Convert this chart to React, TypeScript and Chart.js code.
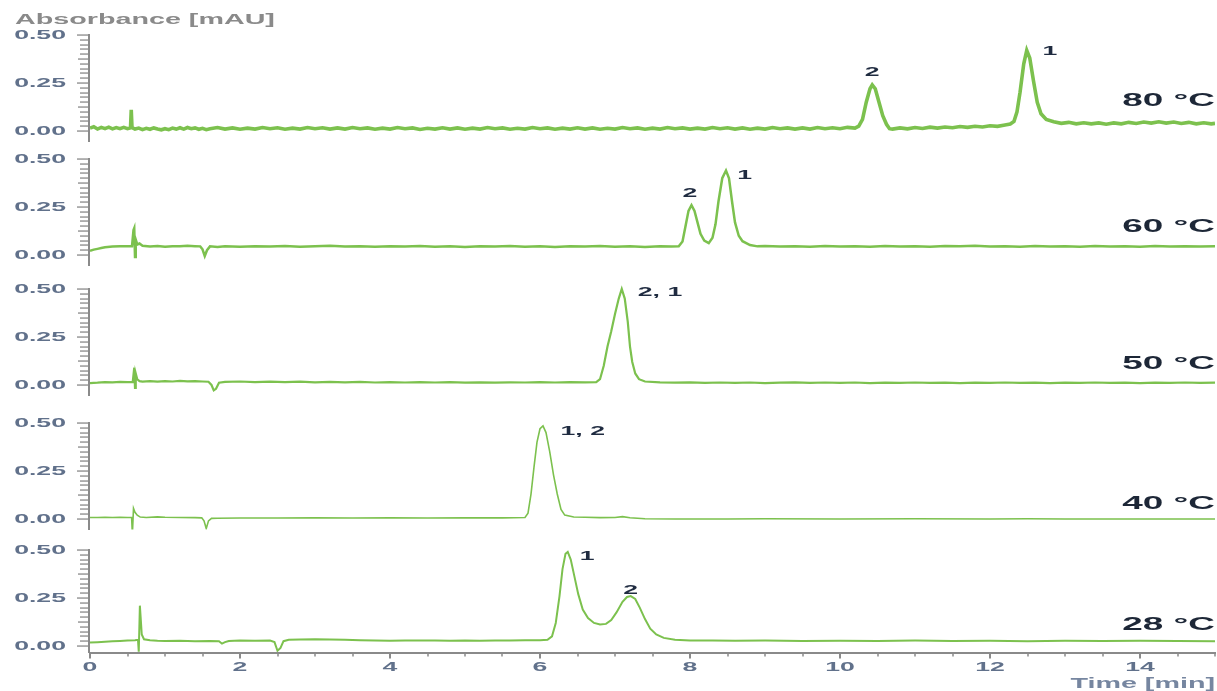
import React, { useEffect, useRef } from "react";
import { Chart, registerables } from "chart.js";

Chart.register(...registerables);

// ---------- data (time [min], absorbance [mAU]) ----------
const temperatures = ["80 °C", "60 °C", "50 °C", "40 °C", "28 °C"];

const trace80: [number, number][] = [
  [0, 0.015], [0.05, 0.022], [0.1, 0.01], [0.15, 0.019], [0.2, 0.012], [0.25, 0.02], [0.3, 0.011], [0.35, 0.018],
  [0.4, 0.012], [0.45, 0.019], [0.5, 0.012], [0.54, 0.016], [0.55, 0.11], [0.56, 0.018], [0.6, 0.01], [0.65, 0.015],
  [0.7, 0.007], [0.75, 0.014], [0.8, 0.009], [0.85, 0.016], [0.9, 0.01], [0.95, 0.006], [1.0, 0.012], [1.05, 0.007],
  [1.1, 0.015], [1.15, 0.01], [1.2, 0.017], [1.25, 0.01], [1.3, 0.018], [1.35, 0.012], [1.4, 0.016], [1.45, 0.009],
  [1.5, 0.014], [1.55, 0.007], [1.6, 0.012], [1.7, 0.018], [1.8, 0.01], [1.9, 0.016], [2.0, 0.009], [2.1, 0.015],
  [2.2, 0.01], [2.3, 0.018], [2.4, 0.012], [2.5, 0.017], [2.6, 0.009], [2.7, 0.015], [2.8, 0.01], [2.9, 0.018],
  [3.0, 0.012], [3.1, 0.017], [3.2, 0.01], [3.3, 0.016], [3.4, 0.01], [3.5, 0.018], [3.6, 0.012], [3.7, 0.016],
  [3.8, 0.009], [3.9, 0.015], [4.0, 0.01], [4.1, 0.018], [4.2, 0.012], [4.3, 0.016], [4.4, 0.008], [4.5, 0.014],
  [4.6, 0.01], [4.7, 0.017], [4.8, 0.01], [4.9, 0.016], [5.0, 0.009], [5.1, 0.015], [5.2, 0.01], [5.3, 0.018],
  [5.4, 0.012], [5.5, 0.016], [5.6, 0.009], [5.7, 0.014], [5.8, 0.01], [5.9, 0.018], [6.0, 0.012], [6.1, 0.016],
  [6.2, 0.009], [6.3, 0.015], [6.4, 0.01], [6.5, 0.017], [6.6, 0.01], [6.7, 0.016], [6.8, 0.009], [6.9, 0.014],
  [7.0, 0.01], [7.1, 0.018], [7.2, 0.012], [7.3, 0.016], [7.4, 0.009], [7.5, 0.015], [7.6, 0.01], [7.7, 0.018],
  [7.8, 0.012], [7.9, 0.016], [8.0, 0.01], [8.1, 0.015], [8.2, 0.01], [8.3, 0.018], [8.4, 0.012], [8.5, 0.017],
  [8.6, 0.01], [8.7, 0.016], [8.8, 0.009], [8.9, 0.015], [9.0, 0.01], [9.1, 0.018], [9.2, 0.012], [9.3, 0.016],
  [9.4, 0.01], [9.5, 0.016], [9.6, 0.01], [9.7, 0.018], [9.8, 0.012], [9.9, 0.017], [10.0, 0.012], [10.1, 0.019],
  [10.2, 0.015], [10.25, 0.025], [10.3, 0.06], [10.35, 0.15], [10.4, 0.22], [10.43, 0.24], [10.47, 0.22],
  [10.52, 0.15], [10.57, 0.08], [10.62, 0.035], [10.66, 0.012], [10.7, 0.01], [10.8, 0.016], [10.9, 0.011],
  [11.0, 0.018], [11.1, 0.013], [11.2, 0.02], [11.3, 0.015], [11.4, 0.021], [11.5, 0.017], [11.6, 0.023],
  [11.7, 0.019], [11.8, 0.025], [11.9, 0.021], [12.0, 0.027], [12.1, 0.024], [12.2, 0.031], [12.27, 0.036],
  [12.32, 0.05], [12.36, 0.1], [12.4, 0.2], [12.45, 0.35], [12.49, 0.42], [12.53, 0.38], [12.58, 0.26],
  [12.63, 0.15], [12.68, 0.09], [12.75, 0.06], [12.85, 0.048], [12.95, 0.04], [13.05, 0.045], [13.15, 0.037],
  [13.25, 0.043], [13.35, 0.037], [13.45, 0.042], [13.55, 0.035], [13.65, 0.042], [13.75, 0.037], [13.85, 0.045],
  [13.95, 0.039], [14.05, 0.047], [14.15, 0.041], [14.25, 0.048], [14.35, 0.041], [14.45, 0.047], [14.55, 0.039],
  [14.65, 0.045], [14.75, 0.037], [14.85, 0.043], [14.95, 0.037], [15, 0.04],
];

const trace60: [number, number][] = [
  [0, 0.022], [0.05, 0.028], [0.1, 0.032], [0.15, 0.036], [0.2, 0.04], [0.3, 0.044], [0.4, 0.046], [0.5, 0.045],
  [0.56, 0.046], [0.58, 0.13], [0.59, 0.14], [0.6, -0.01], [0.61, 0.08], [0.63, 0.055], [0.66, 0.06], [0.7, 0.048],
  [0.8, 0.044], [0.9, 0.047], [1.0, 0.043], [1.1, 0.046], [1.2, 0.045], [1.3, 0.048], [1.4, 0.046], [1.47, 0.045],
  [1.5, 0.03], [1.53, -0.005], [1.56, 0.025], [1.6, 0.045], [1.7, 0.042], [1.8, 0.046], [2.0, 0.043], [2.2, 0.046],
  [2.4, 0.044], [2.6, 0.047], [2.8, 0.043], [3.0, 0.045], [3.2, 0.048], [3.4, 0.044], [3.6, 0.046], [3.8, 0.043],
  [4.0, 0.046], [4.2, 0.044], [4.4, 0.047], [4.6, 0.043], [4.8, 0.045], [5.0, 0.042], [5.2, 0.046], [5.4, 0.044],
  [5.6, 0.047], [5.8, 0.043], [6.0, 0.045], [6.2, 0.042], [6.4, 0.046], [6.6, 0.044], [6.8, 0.047], [7.0, 0.043],
  [7.2, 0.045], [7.4, 0.042], [7.6, 0.046], [7.75, 0.044], [7.85, 0.046], [7.9, 0.07], [7.94, 0.15], [7.98, 0.23],
  [8.02, 0.26], [8.06, 0.23], [8.1, 0.17], [8.14, 0.11], [8.19, 0.075], [8.25, 0.062], [8.3, 0.09], [8.34, 0.16],
  [8.38, 0.28], [8.43, 0.4], [8.48, 0.44], [8.52, 0.4], [8.56, 0.28], [8.6, 0.17], [8.65, 0.1], [8.7, 0.072],
  [8.8, 0.052], [8.9, 0.045], [9.0, 0.047], [9.2, 0.044], [9.4, 0.046], [9.6, 0.043], [9.8, 0.047], [10.0, 0.044],
  [10.2, 0.046], [10.4, 0.043], [10.6, 0.047], [10.8, 0.044], [11.0, 0.046], [11.2, 0.043], [11.4, 0.047],
  [11.6, 0.045], [11.8, 0.048], [12.0, 0.044], [12.2, 0.046], [12.4, 0.043], [12.6, 0.047], [12.8, 0.044],
  [13.0, 0.046], [13.2, 0.043], [13.4, 0.047], [13.6, 0.044], [13.8, 0.046], [14.0, 0.043], [14.2, 0.047],
  [14.4, 0.044], [14.6, 0.046], [14.8, 0.044], [15, 0.045],
];

const trace50: [number, number][] = [
  [0, 0.01], [0.1, 0.012], [0.2, 0.015], [0.3, 0.014], [0.4, 0.016], [0.5, 0.015], [0.57, 0.016], [0.59, 0.09],
  [0.6, -0.015], [0.61, 0.06], [0.63, 0.03], [0.66, 0.02], [0.7, 0.018], [0.8, 0.02], [0.9, 0.017], [1.0, 0.02],
  [1.1, 0.018], [1.2, 0.021], [1.3, 0.019], [1.4, 0.02], [1.5, 0.018], [1.58, 0.017], [1.62, 0.0], [1.65, -0.028],
  [1.68, -0.02], [1.72, 0.012], [1.8, 0.016], [2.0, 0.018], [2.2, 0.015], [2.4, 0.017], [2.6, 0.015], [2.8, 0.017],
  [3.0, 0.014], [3.2, 0.016], [3.4, 0.014], [3.6, 0.016], [3.8, 0.013], [4.0, 0.015], [4.2, 0.013], [4.4, 0.015],
  [4.6, 0.013], [4.8, 0.015], [5.0, 0.012], [5.2, 0.014], [5.4, 0.012], [5.6, 0.014], [5.8, 0.013], [6.0, 0.015],
  [6.2, 0.013], [6.4, 0.015], [6.6, 0.014], [6.75, 0.015], [6.8, 0.03], [6.85, 0.1], [6.9, 0.2], [6.95, 0.28],
  [7.0, 0.37], [7.05, 0.45], [7.09, 0.5], [7.13, 0.45], [7.17, 0.33], [7.2, 0.2], [7.23, 0.12], [7.27, 0.06],
  [7.32, 0.03], [7.4, 0.018], [7.6, 0.014], [7.8, 0.012], [8.0, 0.014], [8.2, 0.011], [8.4, 0.013], [8.6, 0.011],
  [8.8, 0.013], [9.0, 0.01], [9.2, 0.012], [9.4, 0.014], [9.6, 0.011], [9.8, 0.013], [10.0, 0.011], [10.2, 0.013],
  [10.4, 0.01], [10.6, 0.012], [10.8, 0.011], [11.0, 0.013], [11.2, 0.011], [11.4, 0.012], [11.6, 0.01],
  [11.8, 0.012], [12.0, 0.011], [12.2, 0.013], [12.4, 0.011], [12.6, 0.012], [12.8, 0.01], [13.0, 0.012],
  [13.2, 0.011], [13.4, 0.013], [13.6, 0.011], [13.8, 0.012], [14.0, 0.01], [14.2, 0.012], [14.4, 0.011],
  [14.6, 0.013], [14.8, 0.011], [15, 0.012],
];

const trace40: [number, number][] = [
  [0, 0.008], [0.1, 0.008], [0.2, 0.009], [0.3, 0.008], [0.4, 0.009], [0.5, 0.008], [0.555, 0.008], [0.565, -0.08],
  [0.58, 0.055], [0.6, 0.035], [0.63, 0.02], [0.67, 0.01], [0.75, 0.008], [0.9, 0.011], [1.0, 0.009], [1.2, 0.008],
  [1.4, 0.007], [1.49, 0.006], [1.52, -0.01], [1.55, -0.05], [1.58, -0.01], [1.62, 0.003], [1.7, 0.004],
  [2.0, 0.005], [2.5, 0.005], [3.0, 0.006], [3.5, 0.005], [4.0, 0.006], [4.5, 0.005], [5.0, 0.006], [5.5, 0.006],
  [5.8, 0.008], [5.84, 0.03], [5.88, 0.13], [5.92, 0.27], [5.96, 0.4], [6.0, 0.47], [6.04, 0.485], [6.08, 0.45],
  [6.13, 0.35], [6.18, 0.23], [6.23, 0.13], [6.28, 0.05], [6.33, 0.02], [6.45, 0.01], [6.6, 0.009], [6.8, 0.007],
  [7.0, 0.008], [7.1, 0.012], [7.2, 0.006], [7.4, 0.001], [7.8, 0.0], [8.5, 0.0], [9.0, 0.001], [10.0, 0.0],
  [11.0, 0.001], [12.0, 0.0], [12.5, 0.001], [13.0, 0.0], [14.0, 0.0], [15, 0.0],
];

const trace28: [number, number][] = [
  [0, 0.018], [0.1, 0.02], [0.2, 0.022], [0.3, 0.024], [0.4, 0.026], [0.5, 0.028], [0.6, 0.03], [0.64, 0.032],
  [0.65, -0.03], [0.665, 0.21], [0.675, 0.15], [0.69, 0.06], [0.72, 0.035], [0.8, 0.03], [0.9, 0.027],
  [1.0, 0.026], [1.2, 0.027], [1.4, 0.025], [1.6, 0.026], [1.72, 0.025], [1.76, 0.012], [1.8, 0.02], [1.85, 0.026],
  [2.0, 0.028], [2.2, 0.027], [2.4, 0.028], [2.46, 0.02], [2.5, -0.025], [2.54, -0.01], [2.58, 0.025],
  [2.65, 0.032], [2.8, 0.034], [3.0, 0.035], [3.2, 0.034], [3.4, 0.033], [3.6, 0.03], [3.8, 0.028], [4.0, 0.027],
  [4.2, 0.029], [4.4, 0.028], [4.6, 0.029], [4.8, 0.027], [5.0, 0.028], [5.2, 0.027], [5.4, 0.029], [5.6, 0.028],
  [5.8, 0.03], [6.0, 0.03], [6.1, 0.032], [6.16, 0.05], [6.21, 0.12], [6.26, 0.26], [6.3, 0.4], [6.34, 0.48],
  [6.37, 0.49], [6.41, 0.45], [6.46, 0.36], [6.51, 0.27], [6.57, 0.19], [6.64, 0.145], [6.72, 0.12], [6.8, 0.112],
  [6.88, 0.115], [6.95, 0.135], [7.02, 0.175], [7.1, 0.23], [7.16, 0.255], [7.21, 0.26], [7.27, 0.245],
  [7.33, 0.2], [7.4, 0.14], [7.47, 0.09], [7.55, 0.06], [7.65, 0.042], [7.8, 0.032], [8.0, 0.029], [8.3, 0.028],
  [8.6, 0.027], [9.0, 0.028], [9.5, 0.026], [10.0, 0.027], [10.5, 0.026], [11.0, 0.028], [11.5, 0.026],
  [12.0, 0.027], [12.5, 0.025], [13.0, 0.027], [13.5, 0.026], [14.0, 0.027], [14.5, 0.026], [15, 0.025],
];

const yTickLabels = ["0.00", "0.25", "0.50"];
const xTickLabels = ["0", "2", "4", "6", "8", "10", "12", "14"];

// peak annotations: [panel index, time, absorbance, text]
const peakLabels: [number, number, number, string][] = [
  [0, 10.43, 0.307, "2"], [0, 12.8, 0.417, "1"],
  [1, 8.0, 0.323, "2"], [1, 8.73, 0.417, "1"],
  [2, 7.6, 0.484, "2, 1"],
  [3, 6.57, 0.458, "1, 2"],
  [4, 6.63, 0.464, "1"], [4, 7.21, 0.29, "2"],
];
const tempLabelLevel = [0.13, 0.12, 0.083, 0.052, 0.083];

// ---------- layout of the stacked panels (top to bottom) ----------
const panelIds = ["y80", "y60", "y50", "y40", "y28"];
const panelMax = [0.5, 0.591, 0.622, 0.643, 0.6065];
const panelMin = [-0.055, -0.055, -0.055, -0.055, -0.034];
const traces = [trace80, trace60, trace50, trace40, trace28];
const lineWidths = [3.6, 2.5, 2.2, 1.6, 2];

const SX = 2.05;
const GREEN = "rgb(124,193,78)";
const AXIS = "#8a8a8a";
const TICKTXT = "#61718b";
const FONT = '"Liberation Sans", Arial, sans-serif';

function drawStretched(ctx: CanvasRenderingContext2D, txt: string, x: number, y: number,
  align: "left" | "right" | "center", font: string, color: string, baseline: CanvasTextBaseline) {
  ctx.save();
  ctx.font = font;
  ctx.fillStyle = color;
  ctx.textBaseline = baseline;
  ctx.textAlign = "left";
  const w = ctx.measureText(txt).width * SX;
  const left = align === "left" ? x : align === "right" ? x - w : x - w / 2;
  ctx.translate(left, y);
  ctx.scale(SX, 1);
  ctx.fillText(txt, 0, 0);
  ctx.restore();
}

const overlayPlugin = {
  id: "overlay",
  afterDraw(chart: any) {
    const ctx: CanvasRenderingContext2D = chart.ctx;
    const area = chart.chartArea;
    const xs = chart.scales.x;
    ctx.save();
    ctx.fillStyle = AXIS;
    const axLeft = Math.round(area.left) - 2;
    panelIds.forEach((id) => {
      const s = chart.scales[id];
      const top = Math.round(s.getPixelForValue(0.5));
      // axis line
      ctx.fillRect(axLeft, top - 1, 2, Math.round(s.bottom) - top + 1);
      // tick marks: major every 0.25, medium every 0.125, minor every 0.025
      s.ticks.forEach((t: any) => {
        const v = t.value;
        const py = Math.round(s.getPixelForValue(v));
        const k = Math.round(v / 0.025);
        const len = k % 10 === 0 ? 11 : k % 5 === 0 ? 10 : 8;
        ctx.fillRect(axLeft - len, py - 0.6, len, 1.3);
      });
    });
    xs.ticks.forEach((t: any) => {
      const v = t.value;
      const px = Math.round(xs.getPixelForValue(v));
      const major = Math.abs(v / 2 - Math.round(v / 2)) < 1e-6;
      ctx.fillRect(px - (major ? 1 : 0.75), area.bottom, major ? 2 : 1.5, major ? 6 : 4);
    });
    ctx.restore();

    panelIds.forEach((id, i) => {
      const s = chart.scales[id];
      yTickLabels.forEach((t) => {
        drawStretched(ctx, t, 66, s.getPixelForValue(parseFloat(t)), "right", `bold 13px ${FONT}`, TICKTXT, "middle");
      });
      drawStretched(ctx, temperatures[i], area.right, s.getPixelForValue(tempLabelLevel[i]), "right",
        `bold 18px ${FONT}`, "#1d2737", "alphabetic");
    });
    peakLabels.forEach(([p, x, y, t]) => {
      const s = chart.scales[panelIds[p]];
      drawStretched(ctx, t, xs.getPixelForValue(x), s.getPixelForValue(y), "center",
        `bold 13px ${FONT}`, "#1f2b40", "middle");
    });
    xTickLabels.forEach((t) => {
      drawStretched(ctx, t, xs.getPixelForValue(parseFloat(t)), area.bottom + 15, "center",
        `bold 13px ${FONT}`, TICKTXT, "middle");
    });
    drawStretched(ctx, "Absorbance [mAU]", 15, 24, "left", `bold 14px ${FONT}`, "#8a8a8a", "alphabetic");
    drawStretched(ctx, "Time [min]", area.right, 688, "right", `bold 14px ${FONT}`, "#7686a0", "alphabetic");
  },
};

export default function App() {
  const ref = useRef<HTMLCanvasElement>(null);
  useEffect(() => {
    const scales: any = {
      x: {
        type: "linear",
        min: 0,
        max: 15,
        position: "bottom",
        afterBuildTicks: (s: any) => {
          const arr = [];
          for (let k = 0; k <= 30; k++) arr.push({ value: k * 0.5 });
          s.ticks = arr;
        },
        afterFit: (s: any) => { s.height = 38.5; },
        ticks: { display: false, autoSkip: false },
        grid: { display: false },
        border: { display: true, color: AXIS, width: 2 },
      },
    };
    // define bottom panel first: Chart.js stacks left axes in reverse order
    for (let i = panelIds.length - 1; i >= 0; i--) {
      scales[panelIds[i]] = {
        type: "linear",
        position: "left",
        stack: "panels",
        stackWeight: panelMax[i] - panelMin[i],
        min: panelMin[i],
        max: panelMax[i],
        afterBuildTicks: (s: any) => {
          const arr = [];
          for (let k = 0; k <= 20; k++) arr.push({ value: k * 0.025 });
          s.ticks = arr;
        },
        afterFit: (s: any) => { s.width = 90; },
        ticks: { display: false, autoSkip: false },
        grid: { display: false },
        border: { display: false },
      };
    }
    const datasets = traces.map((tr, i) => ({
      label: temperatures[i],
      data: tr.map(([x, y]) => ({ x, y })),
      yAxisID: panelIds[i],
      borderColor: GREEN,
      borderWidth: lineWidths[i],
      pointRadius: 0,
      tension: 0,
      fill: false,
    }));
    const chart = new Chart(ref.current!, {
      type: "line",
      data: { datasets },
      options: {
        animation: false,
        responsive: false,
        devicePixelRatio: 1,
        layout: { padding: { top: 35, right: 2, left: 0, bottom: 0 } },
        plugins: { legend: { display: false }, tooltip: { enabled: false }, title: { display: false } },
        scales,
      },
      plugins: [overlayPlugin],
    } as any);
    return () => chart.destroy();
  }, []);
  return (
    <div style={{ position: "absolute", left: 0, top: 0, width: 1217, height: 691, background: "#fff" }}>
      <canvas ref={ref} width={1217} height={691} style={{ display: "block", width: 1217, height: 691 }} />
    </div>
  );
}
